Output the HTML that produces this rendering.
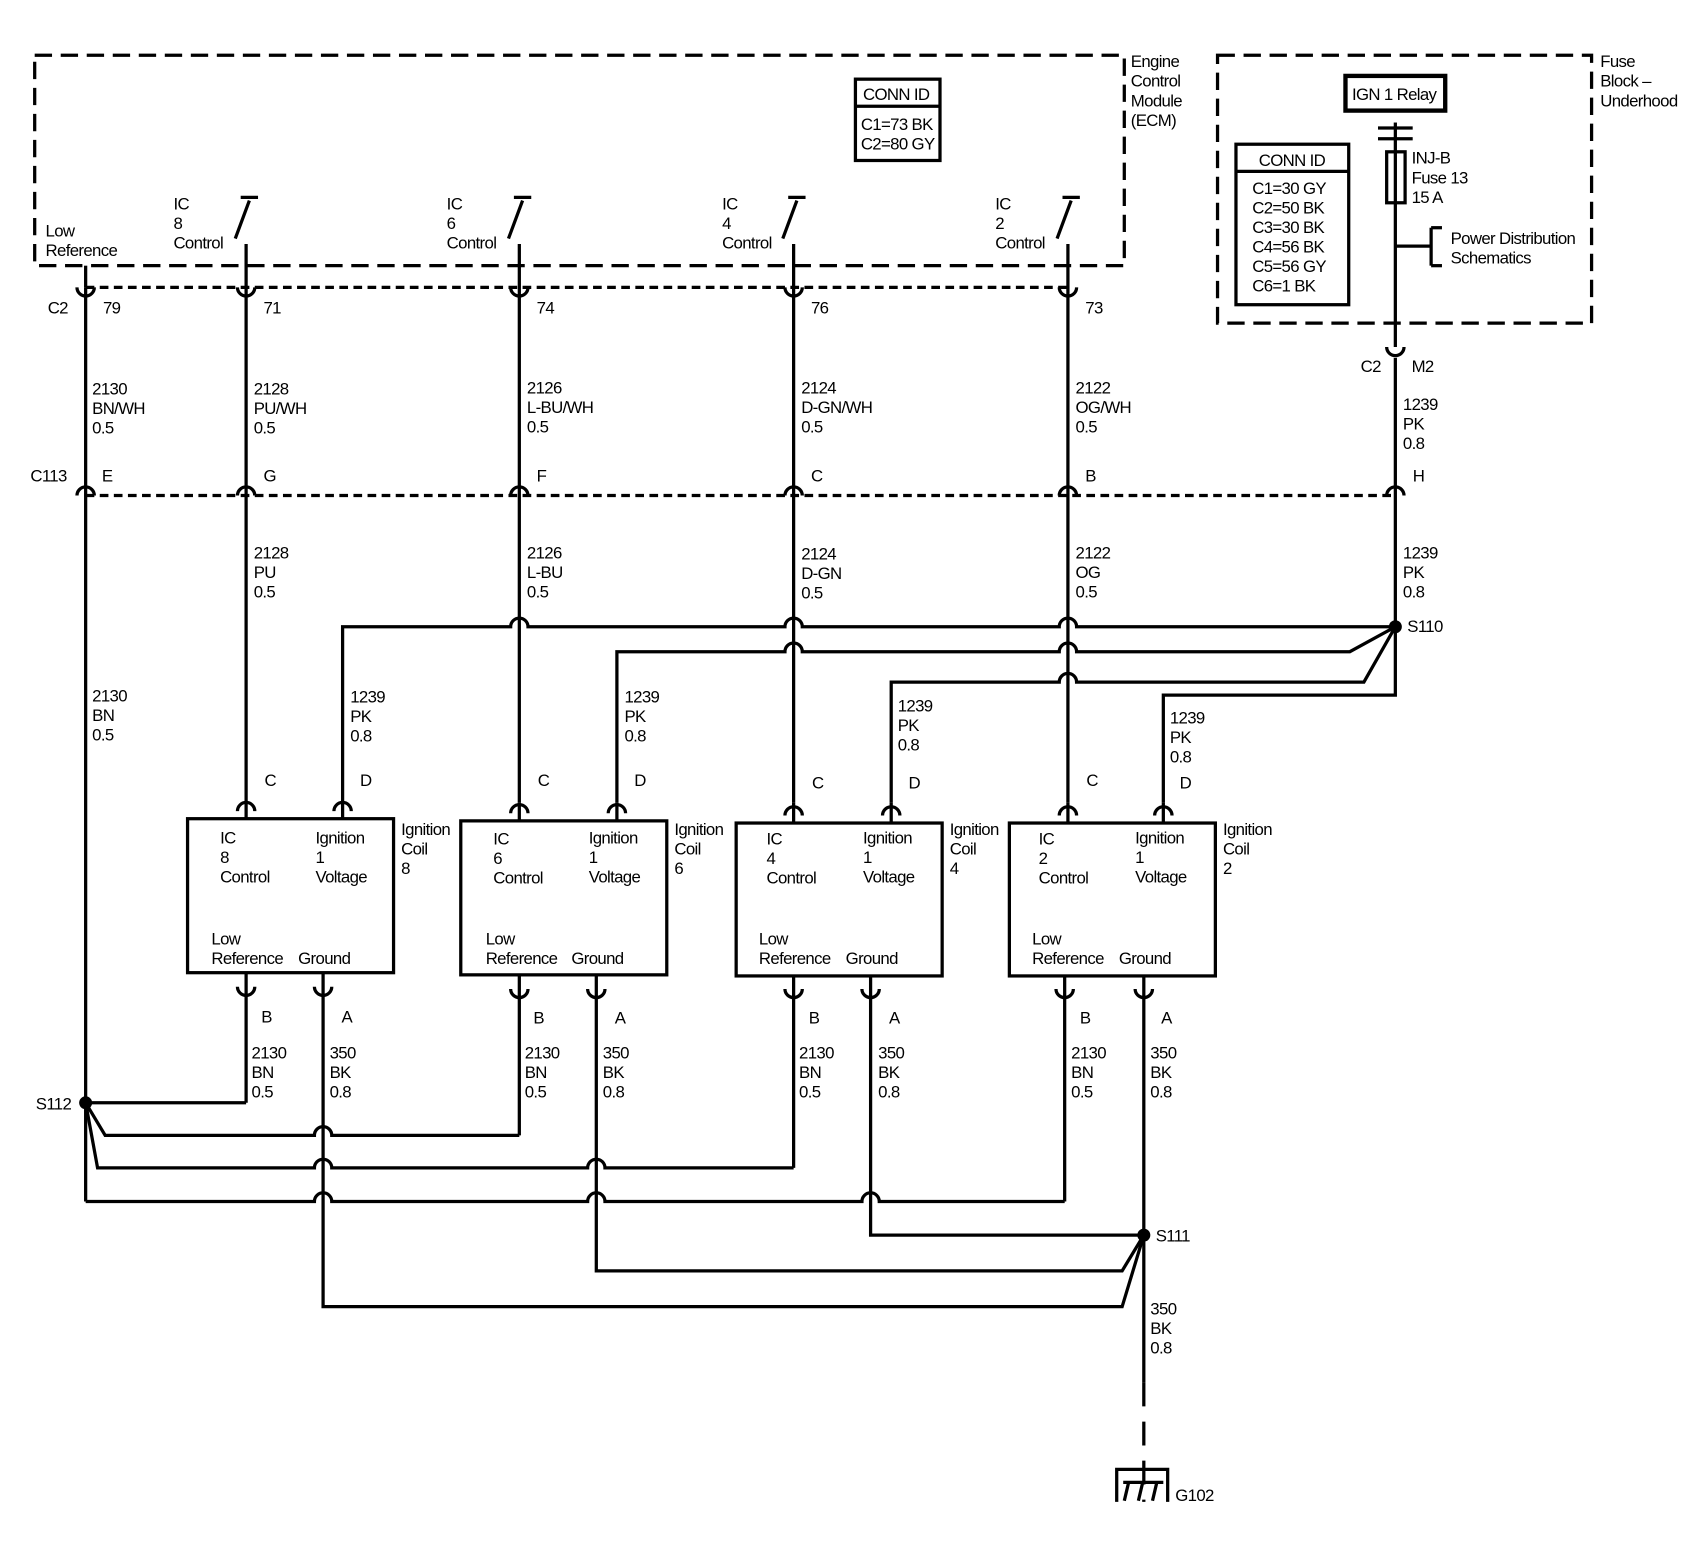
<!DOCTYPE html>
<html><head><meta charset="utf-8"><style>
html,body{margin:0;padding:0;background:#fff;}
svg{display:block;}
text{font-family:"Liberation Sans",sans-serif;font-size:15.5px;fill:#000;letter-spacing:-0.6px;}
</style></head><body>
<svg width="1700" height="1568" viewBox="0 0 1568 1446" preserveAspectRatio="none" xmlns="http://www.w3.org/2000/svg">
<g fill="none" stroke="#000" stroke-width="3">
<rect x="32" y="51" width="1005" height="194" stroke-dasharray="16,8"/>
<rect x="1123" y="51" width="345" height="247" stroke-dasharray="16,8"/>
<line x1="79" y1="265" x2="985" y2="265" stroke-dasharray="8,5"/>
<line x1="79" y1="457" x2="1287" y2="457" stroke-dasharray="8,5"/>
<rect x="789" y="73" width="78" height="75"/>
<line x1="789" y1="98" x2="867" y2="98"/>
<rect x="1241" y="70" width="92" height="32" stroke-width="4"/>
<rect x="1140" y="133" width="104" height="148"/>
<line x1="1140" y1="158" x2="1244" y2="158"/>
<line x1="1271" y1="118" x2="1303" y2="118"/>
<line x1="1271" y1="128" x2="1303" y2="128"/>
<line x1="1287" y1="113" x2="1287" y2="128"/>
<rect x="1279" y="140" width="17" height="47"/>
<line x1="1287" y1="128" x2="1287" y2="320"/>
<line x1="1287" y1="227" x2="1320" y2="227"/>
<line x1="1320" y1="210" x2="1320" y2="245"/>
<line x1="1320" y1="210" x2="1330" y2="210"/>
<line x1="1320" y1="245" x2="1330" y2="245"/>
<line x1="1287" y1="330" x2="1287" y2="457"/>
<line x1="79" y1="245" x2="79" y2="265"/>
<g>
<line x1="227" y1="225" x2="227" y2="740"/>
<line x1="479" y1="225" x2="479" y2="740"/>
<line x1="732" y1="225" x2="732" y2="740"/>
<line x1="985" y1="225" x2="985" y2="740"/>
<line x1="79" y1="265" x2="79" y2="1108"/>
<line x1="1287" y1="457" x2="1287" y2="578"/>
</g>
<g>
<path d="M217,220 L230,185 M222,182 L238,182"/>
<path d="M469,220 L482,185 M474,182 L490,182"/>
<path d="M722,220 L735,185 M727,182 L743,182"/>
<path d="M975,220 L988,185 M980,182 L996,182"/>
</g>
<g>
<path d="M71,265 A8,8 0 0 0 87,265"/><path d="M219,265 A8,8 0 0 0 235,265"/>
<path d="M471,265 A8,8 0 0 0 487,265"/><path d="M724,265 A8,8 0 0 0 740,265"/>
<path d="M977,265 A8,8 0 0 0 993,265"/><path d="M1279,320 A8,8 0 0 0 1295,320"/>
<path d="M71,457 A8,8 0 0 1 87,457"/><path d="M219,457 A8,8 0 0 1 235,457"/>
<path d="M471,457 A8,8 0 0 1 487,457"/><path d="M724,457 A8,8 0 0 1 740,457"/>
<path d="M977,457 A8,8 0 0 1 993,457"/><path d="M1279,457 A8,8 0 0 1 1295,457"/>
</g>
<path d="M316,740 L316,578 L471,578 A8,8 0 0 1 487,578 L724,578 A8,8 0 0 1 740,578 L977,578 A8,8 0 0 1 993,578 L1287,578"/>
<path d="M569,740 L569,601 L724,601 A8,8 0 0 1 740,601 L977,601 A8,8 0 0 1 993,601 L1245,601 L1287,578"/>
<path d="M822,740 L822,629 L977,629 A8,8 0 0 1 993,629 L1258,629 L1287,578"/>
<path d="M1073,740 L1073,641 L1287,641 L1287,578"/>
<rect x="173" y="755" width="190" height="142"/>
<rect x="425" y="757" width="190" height="142"/>
<rect x="679" y="759" width="190" height="141"/>
<rect x="931" y="759" width="190" height="141"/>
<g>
<path d="M219,748 A8,8 0 0 1 235,748"/><path d="M308,748 A8,8 0 0 1 324,748"/>
<path d="M471,750 A8,8 0 0 1 487,750"/><path d="M561,750 A8,8 0 0 1 577,750"/>
<path d="M724,752 A8,8 0 0 1 740,752"/><path d="M814,752 A8,8 0 0 1 830,752"/>
<path d="M977,752 A8,8 0 0 1 993,752"/><path d="M1065,752 A8,8 0 0 1 1081,752"/>
<line x1="227" y1="740" x2="227" y2="755"/><line x1="316" y1="740" x2="316" y2="755"/>
<line x1="479" y1="740" x2="479" y2="757"/><line x1="569" y1="740" x2="569" y2="757"/>
<line x1="732" y1="740" x2="732" y2="759"/><line x1="822" y1="740" x2="822" y2="759"/>
<line x1="985" y1="740" x2="985" y2="759"/><line x1="1073" y1="740" x2="1073" y2="759"/>
</g>
<g>
<path d="M219,910 A8,8 0 0 0 235,910"/><path d="M290,910 A8,8 0 0 0 306,910"/>
<path d="M471,912 A8,8 0 0 0 487,912"/><path d="M542,912 A8,8 0 0 0 558,912"/>
<path d="M724,912 A8,8 0 0 0 740,912"/><path d="M795,912 A8,8 0 0 0 811,912"/>
<path d="M974,912 A8,8 0 0 0 990,912"/><path d="M1047,912 A8,8 0 0 0 1063,912"/>
<line x1="227" y1="897" x2="227" y2="1017"/><line x1="298" y1="897" x2="298" y2="1039"/>
<line x1="479" y1="899" x2="479" y2="1047"/><line x1="550" y1="899" x2="550" y2="1069"/>
<line x1="732" y1="900" x2="732" y2="1077"/><line x1="803" y1="900" x2="803" y2="1100"/>
<line x1="982" y1="900" x2="982" y2="1108"/><line x1="1055" y1="900" x2="1055" y2="1275"/>
</g>
<path d="M79,1017 L227,1017"/>
<path d="M79,1017 L97,1047 L290,1047 A8,8 0 0 1 306,1047 L479,1047"/>
<path d="M79,1017 L90,1077 L290,1077 A8,8 0 0 1 306,1077 L542,1077 A8,8 0 0 1 558,1077 L732,1077"/>
<path d="M79,1108 L290,1108 A8,8 0 0 1 306,1108 L542,1108 A8,8 0 0 1 558,1108 L795,1108 A8,8 0 0 1 811,1108 L982,1108"/>
<path d="M298,1039 L298,1205 L1035,1205 L1055,1139"/>
<path d="M550,1069 L550,1172 L1035,1172 L1055,1139"/>
<path d="M803,1100 L803,1139 L1055,1139"/>
<line x1="1055" y1="1275" x2="1055" y2="1385" stroke-dasharray="22,14"/>
<path d="M1030,1385 L1030,1355 L1077,1355 L1077,1385"/>
<line x1="1036" y1="1367" x2="1073" y2="1367"/>
<path d="M1041,1367 L1037,1384 M1054,1367 L1050,1384 M1067,1367 L1063,1384"/>
</g>
<circle cx="79" cy="1017" r="6"/><circle cx="1287" cy="578" r="6"/><circle cx="1055" cy="1139" r="6"/>
<g>
<text x="1043" y="62">Engine</text><text x="1043" y="80">Control</text><text x="1043" y="98">Module</text><text x="1043" y="116">(ECM)</text>
<text x="1476" y="62">Fuse</text><text x="1476" y="80">Block –</text><text x="1476" y="98">Underhood</text>
<text x="796" y="92">CONN ID</text><text x="794" y="120">C1=73 BK</text><text x="794" y="138">C2=80 GY</text>
<text x="1247" y="92">IGN 1 Relay</text>
<text x="1161" y="153">CONN ID</text>
<text x="1155" y="179">C1=30 GY</text><text x="1155" y="197">C2=50 BK</text><text x="1155" y="215">C3=30 BK</text>
<text x="1155" y="233">C4=56 BK</text><text x="1155" y="251">C5=56 GY</text><text x="1155" y="269">C6=1 BK</text>
<text x="1302" y="151">INJ-B</text><text x="1302" y="169">Fuse 13</text><text x="1302" y="187">15 A</text>
<text x="1338" y="225">Power Distribution</text><text x="1338" y="243">Schematics</text>
<text x="42" y="218">Low</text><text x="42" y="236">Reference</text>
<text x="160" y="193">IC</text><text x="160" y="211">8</text><text x="160" y="229">Control</text>
<text x="412" y="193">IC</text><text x="412" y="211">6</text><text x="412" y="229">Control</text>
<text x="666" y="193">IC</text><text x="666" y="211">4</text><text x="666" y="229">Control</text>
<text x="918" y="193">IC</text><text x="918" y="211">2</text><text x="918" y="229">Control</text>
<text x="44" y="289">C2</text><text x="95" y="289">79</text><text x="243" y="289">71</text><text x="495" y="289">74</text><text x="748" y="289">76</text><text x="1001" y="289">73</text>
<text x="1255" y="343">C2</text><text x="1302" y="343">M2</text>
<text x="85" y="364">2130</text><text x="85" y="382">BN/WH</text><text x="85" y="400">0.5</text>
<text x="234" y="364">2128</text><text x="234" y="382">PU/WH</text><text x="234" y="400">0.5</text>
<text x="486" y="363">2126</text><text x="486" y="381">L-BU/WH</text><text x="486" y="399">0.5</text>
<text x="739" y="363">2124</text><text x="739" y="381">D-GN/WH</text><text x="739" y="399">0.5</text>
<text x="992" y="363">2122</text><text x="992" y="381">OG/WH</text><text x="992" y="399">0.5</text>
<text x="1294" y="378">1239</text><text x="1294" y="396">PK</text><text x="1294" y="414">0.8</text>
<text x="28" y="444">C113</text><text x="94" y="444">E</text><text x="243" y="444">G</text><text x="495" y="444">F</text><text x="748" y="444">C</text><text x="1001" y="444">B</text><text x="1303" y="444">H</text>
<text x="234" y="515">2128</text><text x="234" y="533">PU</text><text x="234" y="551">0.5</text>
<text x="486" y="515">2126</text><text x="486" y="533">L-BU</text><text x="486" y="551">0.5</text>
<text x="739" y="516">2124</text><text x="739" y="534">D-GN</text><text x="739" y="552">0.5</text>
<text x="992" y="515">2122</text><text x="992" y="533">OG</text><text x="992" y="551">0.5</text>
<text x="1294" y="515">1239</text><text x="1294" y="533">PK</text><text x="1294" y="551">0.8</text>
<text x="1298" y="583">S110</text>
<text x="85" y="647">2130</text><text x="85" y="665">BN</text><text x="85" y="683">0.5</text>
<text x="323" y="648">1239</text><text x="323" y="666">PK</text><text x="323" y="684">0.8</text>
<text x="576" y="648">1239</text><text x="576" y="666">PK</text><text x="576" y="684">0.8</text>
<text x="828" y="656">1239</text><text x="828" y="674">PK</text><text x="828" y="692">0.8</text>
<text x="1079" y="667">1239</text><text x="1079" y="685">PK</text><text x="1079" y="703">0.8</text>
<text x="244" y="725">C</text><text x="332" y="725">D</text><text x="496" y="725">C</text><text x="585" y="725">D</text>
<text x="749" y="727">C</text><text x="838" y="727">D</text><text x="1002" y="725">C</text><text x="1088" y="727">D</text>
<text x="203" y="778">IC</text><text x="203" y="796">8</text><text x="203" y="814">Control</text>
<text x="291" y="778">Ignition</text><text x="291" y="796">1</text><text x="291" y="814">Voltage</text>
<text x="195" y="871">Low</text><text x="195" y="889">Reference</text><text x="275" y="889">Ground</text>
<text x="370" y="770">Ignition</text><text x="370" y="788">Coil</text><text x="370" y="806">8</text>
<text x="455" y="779">IC</text><text x="455" y="797">6</text><text x="455" y="815">Control</text>
<text x="543" y="778">Ignition</text><text x="543" y="796">1</text><text x="543" y="814">Voltage</text>
<text x="448" y="871">Low</text><text x="448" y="889">Reference</text><text x="527" y="889">Ground</text>
<text x="622" y="770">Ignition</text><text x="622" y="788">Coil</text><text x="622" y="806">6</text>
<text x="707" y="779">IC</text><text x="707" y="797">4</text><text x="707" y="815">Control</text>
<text x="796" y="778">Ignition</text><text x="796" y="796">1</text><text x="796" y="814">Voltage</text>
<text x="700" y="871">Low</text><text x="700" y="889">Reference</text><text x="780" y="889">Ground</text>
<text x="876" y="770">Ignition</text><text x="876" y="788">Coil</text><text x="876" y="806">4</text>
<text x="958" y="779">IC</text><text x="958" y="797">2</text><text x="958" y="815">Control</text>
<text x="1047" y="778">Ignition</text><text x="1047" y="796">1</text><text x="1047" y="814">Voltage</text>
<text x="952" y="871">Low</text><text x="952" y="889">Reference</text><text x="1032" y="889">Ground</text>
<text x="1128" y="770">Ignition</text><text x="1128" y="788">Coil</text><text x="1128" y="806">2</text>
<text x="241" y="943">B</text><text x="315" y="943">A</text><text x="492" y="944">B</text><text x="567" y="944">A</text>
<text x="746" y="944">B</text><text x="820" y="944">A</text><text x="996" y="944">B</text><text x="1071" y="944">A</text>
<text x="232" y="976">2130</text><text x="232" y="994">BN</text><text x="232" y="1012">0.5</text>
<text x="304" y="976">350</text><text x="304" y="994">BK</text><text x="304" y="1012">0.8</text>
<text x="484" y="976">2130</text><text x="484" y="994">BN</text><text x="484" y="1012">0.5</text>
<text x="556" y="976">350</text><text x="556" y="994">BK</text><text x="556" y="1012">0.8</text>
<text x="737" y="976">2130</text><text x="737" y="994">BN</text><text x="737" y="1012">0.5</text>
<text x="810" y="976">350</text><text x="810" y="994">BK</text><text x="810" y="1012">0.8</text>
<text x="988" y="976">2130</text><text x="988" y="994">BN</text><text x="988" y="1012">0.5</text>
<text x="1061" y="976">350</text><text x="1061" y="994">BK</text><text x="1061" y="1012">0.8</text>
<text x="33" y="1023">S112</text>
<text x="1066" y="1145">S111</text>
<text x="1061" y="1212">350</text><text x="1061" y="1230">BK</text><text x="1061" y="1248">0.8</text>
<text x="1084" y="1384">G102</text>
</g>
</svg>
</body></html>
